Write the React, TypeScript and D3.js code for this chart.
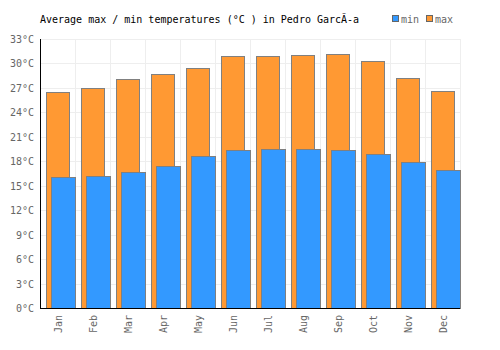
import React, { useEffect, useRef } from "react";
import * as d3 from "d3";

const months = ["Jan", "Feb", "Mar", "Apr", "May", "Jun", "Jul", "Aug", "Sep", "Oct", "Nov", "Dec"];
const maxTemps = [26.5, 27.0, 28.1, 28.7, 29.5, 30.9, 30.9, 31.0, 31.1, 30.3, 28.2, 26.6];
const minTemps = [16.1, 16.2, 16.7, 17.4, 18.6, 19.4, 19.5, 19.5, 19.4, 18.9, 17.9, 16.9];
const yTicks = [0, 3, 6, 9, 12, 15, 18, 21, 24, 27, 30, 33];

const width = 500;
const height = 350;
const margin = { top: 39, right: 40, bottom: 42, left: 40 };
const font = "'DejaVu Sans Mono', monospace";

const App = () => {
  const svgRef = useRef<SVGSVGElement>(null);

  useEffect(() => {
    if (!svgRef.current) return;
    const svg = d3.select(svgRef.current);
    svg.selectAll("*").remove();

    const innerWidth = width - margin.left - margin.right;
    const innerHeight = height - margin.top - margin.bottom;

    const x = d3.scaleBand().domain(months).range([0, innerWidth]).padding(0);
    const y = d3.scaleLinear().domain([0, 33]).range([innerHeight, 0]);
    const bw = x.bandwidth();

    const g = svg
      .append("g")
      .attr("transform", `translate(${margin.left},${margin.top})`);

    // grid
    g.selectAll(".hgrid")
      .data(yTicks)
      .enter()
      .append("line")
      .attr("x1", 0)
      .attr("x2", innerWidth)
      .attr("y1", (d) => Math.round(y(d)) + 0.5)
      .attr("y2", (d) => Math.round(y(d)) + 0.5)
      .attr("stroke", "#eeeeee");

    g.selectAll(".vgrid")
      .data([...months.map((m) => x(m) as number), innerWidth])
      .enter()
      .append("line")
      .attr("x1", (d) => Math.round(d) + 0.5)
      .attr("x2", (d) => Math.round(d) + 0.5)
      .attr("y1", 0)
      .attr("y2", innerHeight)
      .attr("stroke", "#eeeeee");

    // max bars
    g.selectAll(".max")
      .data(maxTemps)
      .enter()
      .append("rect")
      .attr("x", (d, i) => Math.round((x(months[i]) as number) + bw * 0.17) + 0.5)
      .attr("y", (d) => Math.round(y(d)) + 0.5)
      .attr("width", Math.round(bw * 0.66))
      .attr("height", (d) => innerHeight - Math.round(y(d)))
      .attr("fill", "#ff9933")
      .attr("stroke", "#808080")
      .attr("stroke-width", 1);

    // min bars
    g.selectAll(".min")
      .data(minTemps)
      .enter()
      .append("rect")
      .attr("x", (d, i) => Math.round((x(months[i]) as number) + bw * 0.31) + 0.5)
      .attr("y", (d) => Math.round(y(d)) + 0.5)
      .attr("width", Math.round(bw * 0.69))
      .attr("height", (d) => innerHeight - Math.round(y(d)))
      .attr("fill", "#3399ff")
      .attr("stroke", "#808080")
      .attr("stroke-width", 1);

    // axes
    g.append("line")
      .attr("x1", 0.5)
      .attr("x2", 0.5)
      .attr("y1", 0)
      .attr("y2", innerHeight + 0.5)
      .attr("stroke", "#000");
    g.append("line")
      .attr("x1", 0)
      .attr("x2", innerWidth)
      .attr("y1", innerHeight + 0.5)
      .attr("y2", innerHeight + 0.5)
      .attr("stroke", "#000");

    // y labels
    g.selectAll(".ylab")
      .data(yTicks)
      .enter()
      .append("text")
      .attr("x", -6)
      .attr("y", (d) => y(d) + 4)
      .attr("text-anchor", "end")
      .style("font-family", font)
      .style("font-size", "10px")
      .style("fill", "#666")
      .text((d) => `${d}°C`);

    // x labels
    g.selectAll(".xlab")
      .data(months)
      .enter()
      .append("text")
      .attr(
        "transform",
        (d) => `translate(${(x(d) as number) + bw / 2 + 4},${innerHeight + 7}) rotate(-90)`
      )
      .attr("text-anchor", "end")
      .style("font-family", font)
      .style("font-size", "10px")
      .style("fill", "#666")
      .text((d) => d);

    // title
    svg
      .append("text")
      .attr("x", 40)
      .attr("y", 23)
      .style("font-family", font)
      .style("font-size", "10px")
      .style("fill", "#000")
      .text("Average max / min temperatures (°C ) in Pedro GarcÃ-a");

    // legend
    const legend = [
      { label: "min", color: "#3399ff", x: 392 },
      { label: "max", color: "#ff9933", x: 426 },
    ];
    const lg = svg.append("g");
    lg.selectAll("rect")
      .data(legend)
      .enter()
      .append("rect")
      .attr("x", (d) => d.x + 0.5)
      .attr("y", 15.5)
      .attr("width", 6)
      .attr("height", 6)
      .attr("fill", (d) => d.color)
      .attr("stroke", "#666");
    lg.selectAll("text")
      .data(legend)
      .enter()
      .append("text")
      .attr("x", (d) => d.x + 9)
      .attr("y", 23)
      .style("font-family", font)
      .style("font-size", "10px")
      .style("fill", "#666")
      .text((d) => d.label);
  }, []);

  return (
    <div style={{ position: "absolute", left: 0, top: 0, background: "#fff" }}>
      <svg ref={svgRef} width={width} height={height} />
    </div>
  );
};

export default App;
